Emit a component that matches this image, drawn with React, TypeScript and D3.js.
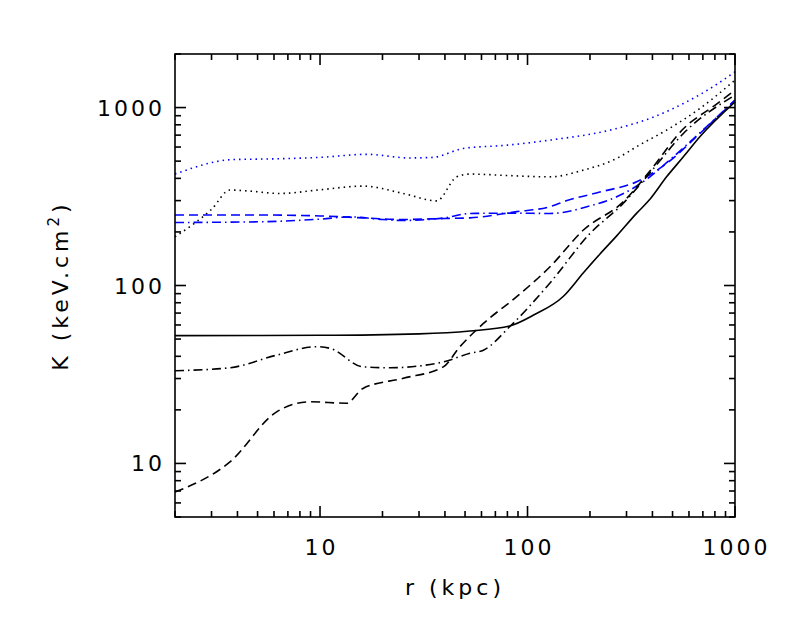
import * as d3 from 'd3';

// r (kpc) / K (keV cm^2) pairs
const blackSolidR = [2, 10, 30, 52.8, 82, 107, 149, 186, 223, 269, 336, 389, 468, 564, 677, 1000];
const blackSolidK = [52.3, 52.5, 53.5, 55.5, 59.2, 68.2, 87, 118, 150, 190, 255, 305, 408, 529, 686, 1077];

const blackDashR = [2, 3.68, 6.18, 8.95, 13.4, 16.1, 25.2, 39.3, 47, 61.3, 88.7, 128, 186, 289, 389, 564, 800, 1000];
const blackDashK = [6.9, 10.2, 19.5, 22.2, 21.8, 26.4, 30.1, 34.9, 45, 61.2, 86.5, 127, 205, 295, 440, 760, 1030, 1253];

const blackDashDotR = [2, 3.68, 6.18, 9.6, 11.2, 16.1, 21.7, 39.3, 52.8, 61.3, 82, 128, 200, 289, 389, 564, 1000];
const blackDashDotK = [33.2, 34.5, 40.6, 45.3, 44.3, 34.9, 34.5, 37.2, 41.6, 43.3, 58.6, 103, 196, 289, 430, 715, 1175];

const blackDotR = [2, 2.5, 3, 3.68, 4.5, 6.4, 10, 16.1, 25.2, 36.5, 45.6, 52.8, 80, 128, 186, 269, 350, 468, 677, 1000];
const blackDotK = [188, 225, 268, 344, 340, 329, 345, 362, 329, 299, 408, 423, 415, 408, 445, 518, 620, 747, 988, 1426];

const blueDotR = [2, 3.8, 6, 10, 16.8, 27, 35, 49, 80, 128, 250, 400, 564, 800, 1000];
const blueDotK = [423, 510, 515, 525, 546, 521, 525, 589, 615, 656, 747, 880, 1054, 1330, 1589];

const blueDashR = [2, 5, 10, 16, 25, 40, 52.8, 88.7, 128, 155, 223, 336, 468, 677, 1000];
const blueDashK = [249, 249, 246, 240, 235, 238, 240, 260, 277, 300, 335, 383, 485, 715, 1101];

const blueDashDotR = [2, 5, 10, 14, 20, 25, 40, 52.8, 88.7, 128, 200, 269, 389, 468, 677, 1000];
const blueDashDotK = [226, 228, 236, 243, 235, 232, 240, 254, 255, 254, 280, 315, 408, 490, 720, 1101];

const xTickLabels = [10, 100, 1000];
const yTickLabels = [10, 100, 1000];

const series = [
  { r: blueDotR, k: blueDotK, color: '#0000ff', dash: '1.5,4' },
  { r: blackDotR, k: blackDotK, color: '#000', dash: '1.5,4' },
  { r: blueDashR, k: blueDashK, color: '#0000ff', dash: '9,5' },
  { r: blueDashDotR, k: blueDashDotK, color: '#0000ff', dash: '9,4,1.5,4' },
  { r: blackSolidR, k: blackSolidK, color: '#000', dash: null },
  { r: blackDashR, k: blackDashK, color: '#000', dash: '9,5' },
  { r: blackDashDotR, k: blackDashDotK, color: '#000', dash: '9,4,1.5,4' },
];

const W = 786;
const H = 629;
const margin = { left: 175, right: 51, top: 54, bottom: 112 };
const font = '"DejaVu Sans", sans-serif';

function minorTicks(lo: number, hi: number) {
  const out: { v: number; major: boolean }[] = [];
  for (let e = -1; e <= 4; e++) {
    for (let m = 1; m <= 9; m++) {
      const v = m * Math.pow(10, e);
      if (v >= lo * 0.999 && v <= hi * 1.001) out.push({ v, major: m === 1 });
    }
  }
  return out;
}

export default function App() {
  const x = d3.scaleLog().domain([2, 1000]).range([margin.left, W - margin.right]);
  const y = d3.scaleLog().domain([5, 2000]).range([H - margin.bottom, margin.top]);
  const [x0, x1] = x.range();
  const [y0, y1] = y.range();

  const line = d3
    .line<[number, number]>()
    .x((d) => x(d[0]))
    .y((d) => y(d[1]))
    .curve(d3.curveMonotoneX);

  const xt = minorTicks(2, 1000);
  const yt = minorTicks(5, 2000);

  return (
    <svg width={W} height={H} style={{ position: 'absolute', left: 0, top: 0, background: '#fff' }}>
      <rect x={0} y={0} width={W} height={H} fill="#fff" />
      {series.map((s, i) => (
        <path
          key={i}
          d={line(s.r.map((r, j) => [r, s.k[j]] as [number, number])) || ''}
          fill="none"
          stroke={s.color}
          strokeWidth={1.6}
          strokeDasharray={s.dash || undefined}
        />
      ))}
      <rect x={x0} y={y1} width={x1 - x0} height={y0 - y1} fill="none" stroke="#000" strokeWidth={1.6} />
      {xt.map((t, i) => {
        const len = t.major ? 11 : 6;
        const px = x(t.v);
        return (
          <g key={'x' + i} stroke="#000" strokeWidth={1.6}>
            <line x1={px} x2={px} y1={y0} y2={y0 - len} />
            <line x1={px} x2={px} y1={y1} y2={y1 + len} />
          </g>
        );
      })}
      {yt.map((t, i) => {
        const len = t.major ? 11 : 6;
        const py = y(t.v);
        return (
          <g key={'y' + i} stroke="#000" strokeWidth={1.6}>
            <line x1={x0} x2={x0 + len} y1={py} y2={py} />
            <line x1={x1} x2={x1 - len} y1={py} y2={py} />
          </g>
        );
      })}
      {xTickLabels.map((v) => (
        <text key={'xl' + v} x={x(v) + 1.5} y={y0 + 38} textAnchor="middle" fontFamily={font} fontSize={22} letterSpacing={3}>
          {v}
        </text>
      ))}
      {yTickLabels.map((v) => (
        <text key={'yl' + v} x={x0 - 10} y={y(v) + 8} textAnchor="end" fontFamily={font} fontSize={22} letterSpacing={3}>
          {v}
        </text>
      ))}
      <text x={(x0 + x1) / 2} y={y0 + 78} textAnchor="middle" fontFamily={font} fontSize={22} letterSpacing={4}>
        r (kpc)
      </text>
      <text
        transform={`translate(68, ${(y0 + y1) / 2}) rotate(-90)`}
        textAnchor="middle"
        fontFamily={font}
        fontSize={22}
        letterSpacing={4}
      >
        K (keV.cm<tspan dy={-9} fontSize={15}>2</tspan>
        <tspan dy={9}>)</tspan>
      </text>
    </svg>
  );
}
